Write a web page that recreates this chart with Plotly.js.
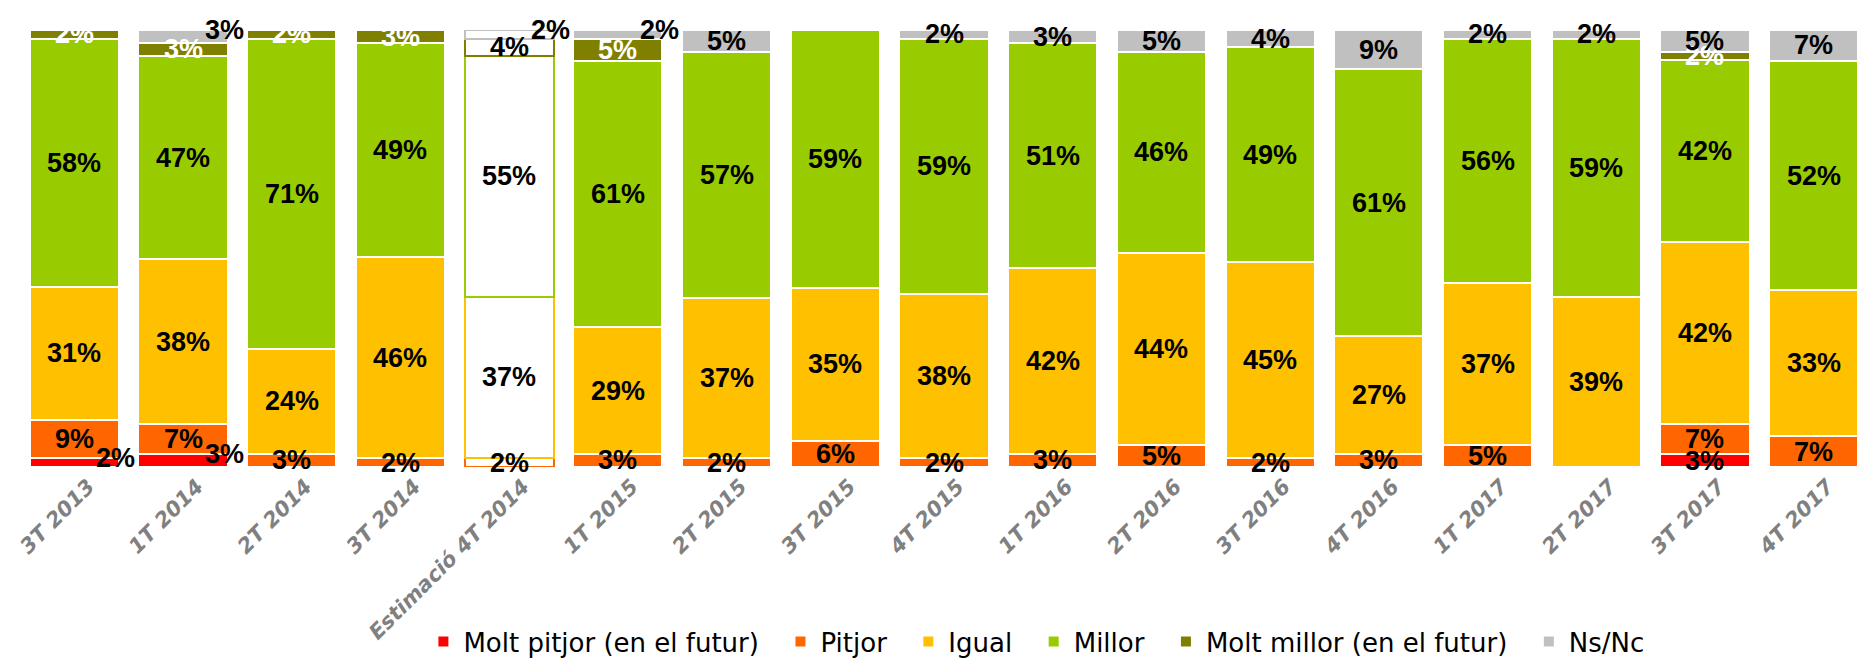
<!DOCTYPE html>
<html>
<head>
<meta charset="utf-8">
<script src="https://cdn.plot.ly/plotly-3.0.1.min.js"></script>
<style>html,body{margin:0;padding:0;background:#fff;}#chart{width:1868px;height:660px;}</style>
</head>
<body>
<div id="chart"></div>
<script>
const categories = ['3T 2013','1T 2014','2T 2014','3T 2014','Estimació 4T 2014','1T 2015','2T 2015','3T 2015','4T 2015','1T 2016','2T 2016','3T 2016','4T 2016','1T 2017','2T 2017','3T 2017','4T 2017'];
const moltPitjor = [2,3,0,0,0,0,0,0,0,0,0,0,0,0,0,3,0];
const pitjor     = [9,7,3,2,2,3,2,6,2,3,5,2,3,5,0,7,7];
const igual      = [31,38,24,46,37,29,37,35,38,42,44,45,27,37,39,42,33];
const millor     = [58,47,71,49,55,61,57,59,59,51,46,49,61,56,59,42,52];
const moltMillor = [2,3,2,3,4,5,0,0,0,0,0,0,0,0,0,2,0];
const nsnc       = [0,3,0,0,2,2,5,0,2,3,5,4,9,2,2,5,7];

const seriesNames = ['Molt pitjor (en el futur)','Pitjor','Igual','Millor','Molt millor (en el futur)','Ns/Nc'];
const seriesValues = [moltPitjor, pitjor, igual, millor, moltMillor, nsnc];
const seriesColors = ['#FF0000','#FF6600','#FFC000','#99CC00','#808000','#C0C0C0'];
const estIndex = 4;
// labels drawn beside the bar instead of centred on it: [series, category index]
const outsideLabels = [[0,0],[0,1],[5,1],[5,4],[5,5]];

const labelFont = 'Liberation Sans, Arial, sans-serif';
const totals = categories.map((c,i)=>seriesValues.reduce((s,arr)=>s+arr[i],0));
const NB = '\u00A0\u00A0';

const traces = seriesValues.map((vals, s) => ({
  type:'bar', name: seriesNames[s] + (s < seriesNames.length-1 ? NB : ''), x: categories, y: vals,
  hoverinfo:'skip', textposition:'none',
  marker:{
    color: vals.map((v,i)=> i===estIndex ? '#FFFFFF' : seriesColors[s]),
    line:{color: vals.map((v,i)=> i===estIndex ? seriesColors[s] : '#FFFFFF'), width:2}
  }
}));

const annotations = [];
categories.forEach((c,i) => {
  let cum = 0;
  seriesValues.forEach((vals, s) => {
    const v = vals[i];
    const base = cum;
    cum += v;
    if (!v) return;
    const outside = outsideLabels.some(o=>o[0]===s && o[1]===i);
    let y, x = i;
    if (outside) {
      x = i + 0.38;
      y = cum / totals[i] * 100;
    } else {
      y = (base + v/2) / totals[i] * 100;
    }
    const color = (s===4 && i!==estIndex && !outside) ? '#FFFFFF' : '#000000';
    annotations.push({
      x: x, y: y, xref:'x', yref:'y', text: v + '%', showarrow:false,
      font:{family:labelFont, size:27, color:color, weight:'bold'},
      xanchor:'center', yanchor:'middle'
    });
  });
});

const layout = {
  width:1868, height:660,
  margin:{l:20, r:0, t:30, b:193},
  paper_bgcolor:'#FFFFFF', plot_bgcolor:'#FFFFFF',
  barmode:'stack', barnorm:'percent', bargap:0.18,
  showlegend:true,
  xaxis:{type:'category', tickangle:-45, automargin:false, ticklabelshift:14, ticklabelstandoff:2,
    tickfont:{family:'DejaVu Sans, sans-serif', size:21, color:'#808080', weight:'bold', style:'italic'},
    showgrid:false, zeroline:false, showline:false, ticks:''},
  yaxis:{range:[0,100], visible:false, showgrid:false, zeroline:false, fixedrange:true},
  legend:{orientation:'h', traceorder:'normal', xref:'paper', x:0.55, xanchor:'center',
    yref:'container', y:0.028, yanchor:'middle',
    font:{family:'DejaVu Sans, sans-serif', size:26, color:'#000000'}, itemclick:false},
  annotations: annotations
};

Plotly.newPlot('chart', traces, layout, {displayModeBar:false, staticPlot:true});
</script>
</body>
</html>
